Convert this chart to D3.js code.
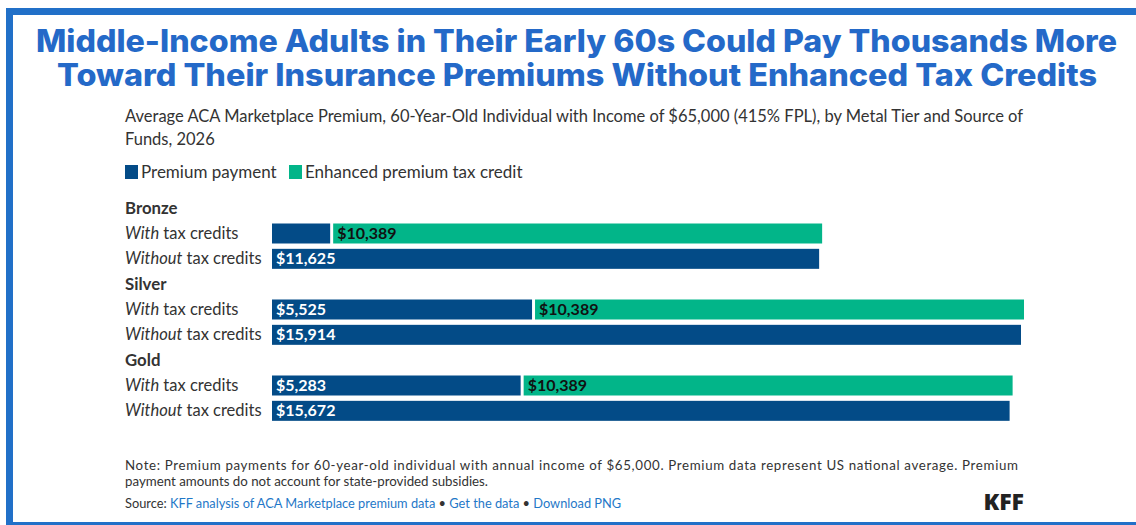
<!DOCTYPE html>
<html><head><meta charset="utf-8">
<script src="https://cdn.jsdelivr.net/npm/d3@7"></script>
<style>
html,body{margin:0;padding:0;background:#fff;}
svg{display:block;}
</style></head>
<body>
<script>
const titleLines = ["Middle-Income Adults in Their Early 60s Could Pay Thousands More",
                    "Toward Their Insurance Premiums Without Enhanced Tax Credits"];
const subtitleLines = ["Average ACA Marketplace Premium, 60-Year-Old Individual with Income of $65,000 (415% FPL), by Metal Tier and Source of",
                       "Funds, 2026"];
const seriesNames = ["Premium payment", "Enhanced premium tax credit"];
const tiers = ["Bronze", "Silver", "Gold"];
const rowKinds = ["With", "Without"];
// premium payment per tier: [with credits, without credits]
const premiumPayment = [[1236, 11625], [5525, 15914], [5283, 15672]];
// enhanced premium tax credit per tier: [with credits, without credits]
const taxCredit = [[10389, 0], [10389, 0], [10389, 0]];
const noteLines = ["Note: Premium payments for 60-year-old individual with annual income of $65,000. Premium data represent US national average. Premium",
                   "payment amounts do not account for state-provided subsidies."];

const W = 1136, H = 525;
const C_BLUE = "#034b87", C_GREEN = "#02b589", FRAME = "#2170c8";
const FONT = "Lato, 'Source Sans Pro', sans-serif";

const svg = d3.select("body").append("svg").attr("width", W).attr("height", H);
svg.append("rect").attr("width", W).attr("height", H).attr("fill", "#fff");

// frame
svg.append("rect").attr("x", 6).attr("y", 8).attr("width", W - 6).attr("height", 7).attr("fill", FRAME);
svg.append("rect").attr("x", 6).attr("y", 8).attr("width", 7).attr("height", H - 8).attr("fill", FRAME);
svg.append("rect").attr("x", 6).attr("y", 522).attr("width", W - 6).attr("height", 3).attr("fill", FRAME);

// title
const tl = [[52, 36, 1081], [86, 57, 1040]];
titleLines.forEach((t, i) => {
  svg.append("text").attr("x", tl[i][1]).attr("y", tl[i][0])
    .attr("textLength", tl[i][2]).attr("lengthAdjust", "spacingAndGlyphs")
    .style("font-family", "Inter, 'Open Sans', sans-serif").style("font-weight", 800)
    .style("font-size", "31px").attr("fill", "#2469c8").text(t);
});

// subtitle
subtitleLines.forEach((t, i) => {
  svg.append("text").attr("x", 125).attr("y", 122 + i * 23)
    .style("font-family", FONT).style("font-size", "16.5px").attr("fill", "#333").text(t);
});

// legend
const color = d3.scaleOrdinal().domain(seriesNames).range([C_BLUE, C_GREEN]);
const legX = [125, 289];
seriesNames.forEach((s, i) => {
  const g = svg.append("g").attr("transform", `translate(${legX[i]},0)`);
  g.append("rect").attr("x", 0).attr("y", 165).attr("width", 13).attr("height", 14).attr("fill", color(s));
  g.append("text").attr("x", 16).attr("y", 178).style("font-family", FONT).style("font-size", "17px").attr("fill", "#333").text(s);
});

// rows
const rows = [];
tiers.forEach((t, ti) => {
  rows.push({key: t + "-h", type: "header", tier: t});
  rowKinds.forEach((k, ki) => rows.push({key: t + "-" + k, type: "bar", tier: t, kind: k, ti, ki}));
});
const y = d3.scaleBand().domain(rows.map(r => r.key)).range([195.5, 423.5]).padding(0);
const x = d3.scaleLinear().domain([0, 15914]).range([272, 1021]);
const barH = 20;
const fmt = d3.format("$,");

rows.forEach(r => {
  const cy = y(r.key) + y.bandwidth() / 2;
  if (r.type === "header") {
    svg.append("text").attr("x", 125).attr("y", cy + 5.5).style("font-family", FONT)
      .style("font-weight", 700).style("font-size", "16.8px").attr("fill", "#333").text(r.tier);
    return;
  }
  const lbl = svg.append("text").attr("x", 125).attr("y", cy + 5.5).style("font-family", FONT)
    .style("font-size", "16.5px").attr("fill", "#333");
  lbl.append("tspan").style("font-style", "italic").text(r.kind);
  lbl.append("tspan").text(" tax credits");

  const pv = premiumPayment[r.ti][r.ki];
  const cv = taxCredit[r.ti][r.ki];
  const y0 = cy - barH / 2;
  svg.append("rect").attr("x", x(0)).attr("y", y0).attr("width", x(pv) - x(0)).attr("height", barH)
    .attr("fill", C_BLUE);
  if (x(pv) - x(0) > 70) {
    svg.append("text").attr("x", x(0) + 4).attr("y", cy + 5.5).style("font-family", FONT)
      .style("font-weight", 700).style("font-size", "16px").attr("fill", "#fff").text(fmt(pv));
  }
  if (cv > 0) {
    const gx = x(pv) + 3;
    svg.append("rect").attr("x", gx).attr("y", y0).attr("width", x(cv) - x(0)).attr("height", barH)
      .attr("fill", C_GREEN);
    svg.append("text").attr("x", gx + 4).attr("y", cy + 5.5).style("font-family", FONT)
      .style("font-weight", 700).style("font-size", "16px").attr("fill", "#111").text(fmt(cv));
  }
});

// notes
const noteLen = [893, 363];
noteLines.forEach((t, i) => {
  svg.append("text").attr("x", 125).attr("y", 470 + i * 16).style("font-family", FONT)
    .attr("textLength", noteLen[i]).attr("lengthAdjust", "spacing")
    .style("font-size", "13.3px").attr("fill", "#333").text(t);
});
const src = svg.append("text").attr("x", 125).attr("y", 508).style("font-family", FONT)
  .style("font-size", "12.8px").attr("fill", "#333");
src.append("tspan").text("Source: ");
src.append("tspan").attr("fill", "#1f78c8").text("KFF analysis of ACA Marketplace premium data");
src.append("tspan").text(" \u2022 ");
src.append("tspan").attr("fill", "#1f78c8").text("Get the data");
src.append("tspan").text(" \u2022 ");
src.append("tspan").attr("fill", "#1f78c8").text("Download PNG");

svg.append("text").attr("x", 1024).attr("y", 510).attr("text-anchor", "end")
  .style("font-family", "'Open Sans', sans-serif").style("font-weight", 800)
  .style("font-size", "23px").attr("fill", "#222").text("KFF");
</script>
</body></html>
